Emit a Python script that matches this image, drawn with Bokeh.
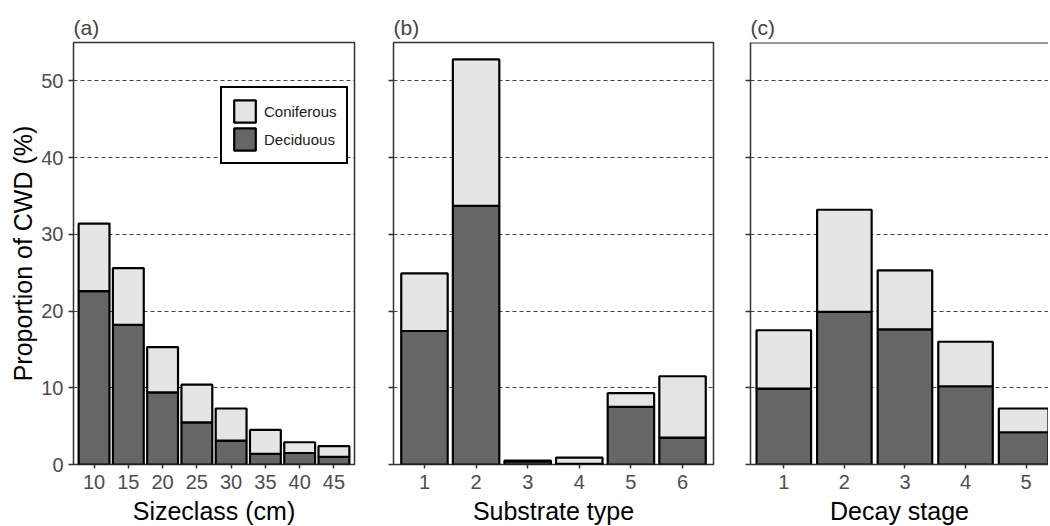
from bokeh.plotting import figure
from bokeh.layouts import row
from bokeh.models import Range1d, FixedTicker, Legend, LegendItem, Span, ColumnDataSource
from bokeh.embed import file_html
from bokeh.resources import INLINE

# ---- data ----
sizeclass = ["10", "15", "20", "25", "30", "35", "40", "45"]
size_deciduous = [22.6, 18.2, 9.4, 5.5, 3.1, 1.4, 1.5, 1.0]
size_coniferous = [8.8, 7.4, 5.9, 4.9, 4.2, 3.1, 1.4, 1.4]

substrate = ["1", "2", "3", "4", "5", "6"]
sub_deciduous = [17.4, 33.7, 0.4, 0.1, 7.5, 3.5]
sub_coniferous = [7.5, 19.1, 0.1, 0.8, 1.8, 8.0]

decay = ["1", "2", "3", "4", "5"]
dec_deciduous = [9.9, 19.9, 17.6, 10.2, 4.2]
dec_coniferous = [7.6, 13.3, 7.7, 5.8, 3.1]

y_ticks = [0, 10, 20, 30, 40, 50]

FONT = "Liberation Sans"
DARK = "#666666"
LIGHT = "#e5e5e5"
FRAME = "#333333"


def make_panel(cats, dec, con, title, xlabel, frame_width, x_start, x_end,
               border_left, border_right, ylabel=None, outline=True):
    xs = list(range(1, len(cats) + 1))
    src = ColumnDataSource(dict(x=xs, Deciduous=dec, Coniferous=con))
    p = figure(output_backend="svg", toolbar_location=None,
               frame_width=frame_width, frame_height=422,
               x_range=Range1d(x_start, x_end), y_range=Range1d(0, 55),
               min_border_left=border_left, min_border_right=border_right,
               min_border_top=42, min_border_bottom=40,
               title=title)
    p.title.text_font = FONT
    p.title.text_font_size = "21px"
    p.title.text_font_style = "normal"
    p.title.align = "left"
    p.title.offset = 0
    p.title.standoff = 8

    rs = p.vbar_stack(["Deciduous", "Coniferous"], x="x", width=0.9, source=src,
                      fill_color=[DARK, LIGHT], line_color="black", line_width=2.2)

    p.xgrid.visible = False
    p.ygrid.ticker = FixedTicker(ticks=y_ticks[1:])
    p.ygrid.grid_line_color = "#444444"
    p.ygrid.grid_line_dash = "4 3"
    p.ygrid.grid_line_width = 1

    p.background_fill_color = "white"
    p.border_fill_color = "white"
    if outline:
        p.outline_line_color = FRAME
        p.outline_line_width = 1.5
        p.outline_line_alpha = 1
    else:
        p.outline_line_color = None

    xa = p.xaxis[0]
    xa.ticker = FixedTicker(ticks=xs)
    xa.major_label_overrides = {x: c for x, c in zip(xs, cats)}
    xa.minor_tick_line_color = None
    xa.major_tick_out = 4
    xa.major_tick_in = 0
    xa.major_tick_line_color = FRAME
    xa.major_tick_line_width = 1.5
    xa.major_label_text_font = FONT
    xa.major_label_text_font_size = "20px"
    xa.major_label_text_color = "#4d4d4d"
    xa.major_label_standoff = 6
    xa.axis_label = xlabel
    xa.axis_label_text_font = FONT
    xa.axis_label_text_font_size = "25px"
    xa.axis_label_text_font_style = "normal"
    xa.axis_label_text_color = "black"
    xa.axis_label_standoff = 5

    ya = p.yaxis[0]
    ya.ticker = FixedTicker(ticks=y_ticks)
    ya.minor_tick_line_color = None
    ya.major_tick_out = 5
    ya.major_tick_in = 0
    ya.major_tick_line_color = FRAME
    ya.major_tick_line_width = 1.5
    ya.major_label_text_font = FONT
    ya.major_label_text_font_size = "20px"
    ya.major_label_text_color = "#4d4d4d"
    ya.major_label_standoff = 5
    if ylabel:
        ya.axis_label = ylabel
        ya.axis_label_text_font = FONT
        ya.axis_label_text_font_size = "25px"
        ya.axis_label_text_font_style = "normal"
        ya.axis_label_text_color = "black"
        ya.axis_label_standoff = 1
    else:
        ya.major_label_overrides = {t: "" for t in y_ticks}
        ya.major_label_standoff = 0

    if outline:
        xa.axis_line_color = None
        ya.axis_line_color = None
    else:
        xa.axis_line_color = FRAME
        xa.axis_line_width = 1.5
        ya.axis_line_color = FRAME
        ya.axis_line_width = 1.5
        p.add_layout(Span(location=55, dimension="width", line_color=FRAME, line_width=2))
    return p, rs


p1, rs1 = make_panel(sizeclass, size_deciduous, size_coniferous, "(a)", "Sizeclass (cm)",
                     281, 0.4, 8.6, 73, 19, ylabel="Proportion of CWD (%)")
p2, _ = make_panel(substrate, sub_deciduous, sub_coniferous, "(b)", "Substrate type",
                   320, 0.4, 6.6, 20, 18)
p3, _ = make_panel(decay, dec_deciduous, dec_coniferous, "(c)", "Decay stage",
                   298, 0.45, 5.37, 19, 0, outline=False)

legend = Legend(items=[LegendItem(label="Coniferous", renderers=[rs1[1]]),
                       LegendItem(label="Deciduous", renderers=[rs1[0]])],
                location=(147, 300))
legend.border_line_color = "black"
legend.border_line_width = 2.5
legend.border_line_alpha = 1
legend.background_fill_color = "white"
legend.background_fill_alpha = 1
legend.padding = 9
legend.margin = 0
legend.spacing = 0
legend.glyph_width = 27
legend.glyph_height = 28
legend.label_height = 28
legend.label_standoff = 6
legend.label_text_font = FONT
legend.label_text_font_size = "15px"
legend.label_text_color = "#1a1a1a"
p1.add_layout(legend)

layout = row(p1, p2, p3)
open("out.html", "w").write(file_html(layout, INLINE))
